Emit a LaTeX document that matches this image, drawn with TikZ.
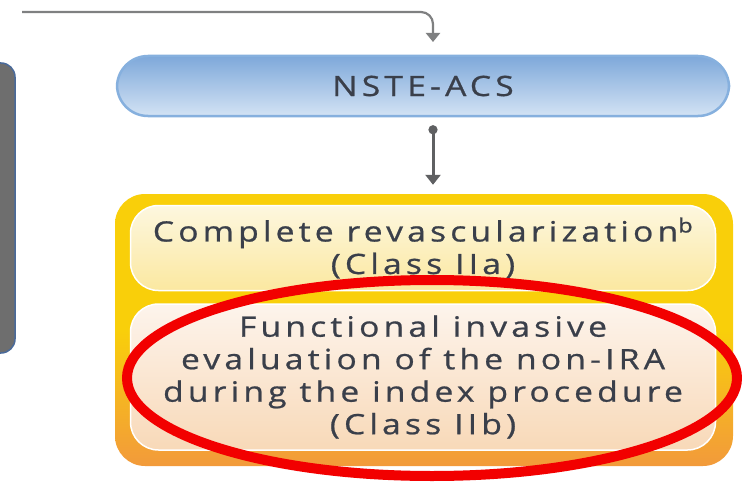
\documentclass[tikz,border=0pt]{standalone}
\usepackage{fontspec}
\setmainfont{Open Sans}[LetterSpace=15, FakeBold=0.8, FakeStretch=1.2]
\usetikzlibrary{arrows.meta,calc}
\definecolor{txt}{HTML}{3A3F4A}
\definecolor{conn}{HTML}{5F6062}
\definecolor{pilltop}{HTML}{7EA8DA}
\definecolor{pillbot}{HTML}{D3E3F4}
\definecolor{pillline}{HTML}{86B0DE}
\definecolor{contop}{HTML}{F9CF0A}
\definecolor{conbot}{HTML}{F29A3B}
\definecolor{boxatop}{HTML}{FDF7DF}
\definecolor{boxabot}{HTML}{FBE8A0}
\definecolor{boxbtop}{HTML}{FDF4EC}
\definecolor{boxbbot}{HTML}{F8D9B8}
\definecolor{grayfill}{HTML}{6E6E6E}
\definecolor{grayline}{HTML}{4A6A9A}
\definecolor{ringred}{HTML}{F20000}
\tikzset{
  pill/.style={draw=pillline, line width=2.5pt, rounded corners=31pt,
    top color=pilltop, bottom color=pillbot, minimum width=612pt, minimum height=60pt,
    inner sep=0pt, text=txt, font=\fontsize{28}{32}\selectfont},
  container/.style={rounded corners=30pt, top color=contop, bottom color=conbot,
    middle color=contop, minimum width=618pt, minimum height=272pt, inner sep=0pt},
  innerbox/.style={rounded corners=28pt, minimum width=585pt, inner sep=0pt,
    text=txt, align=center, font=\fontsize{28}{32.5}\selectfont},
  conline/.style={draw=conn, line width=2.2pt},
  ring/.style={draw=ringred, line width=10pt}
}
\begin{document}
\begin{tikzpicture}[x=1pt,y=-1pt]
\useasboundingbox (0,0) rectangle (742,487);
% left gray box
\filldraw[fill=grayfill, draw=grayline, line width=1.5pt, rounded corners=14pt]
  (-30,63) -- (15,63) -- (15,353) -- (-30,353) -- cycle;
% NSTE-ACS pill
\node[pill] (nste) at (423,86) {NSTE-ACS};
% container
\node[container] (cont) at (424,330) {};
\node[innerbox, minimum height=85pt, top color=boxatop, bottom color=boxabot,
  draw=white, line width=1.5pt] (boxa) at (423,248)
  {Complete revascularization\textsuperscript{b}\\(Class IIa)};
\node[innerbox, minimum height=146pt, top color=boxbtop, bottom color=boxbbot,
  draw=white, line width=1.5pt] (boxb) at (423,377)
  {Functional invasive\\evaluation of the non-IRA\\during the index procedure\\(Class IIb)};
% connectors
\coordinate (start) at (22,12);
\coordinate (bend) at (433,12);
\draw[conline, draw=conn!80, rounded corners=12pt, -{Triangle[width=14pt,length=9pt]}]
  (start) -- (bend) -- ($(bend)+(0,30)$);
\draw[conline, line width=3pt, {Circle[length=9pt]}-{Triangle[width=15pt,length=10pt]}, shorten <=8pt, shorten >=9pt]
  (nste.south -| 433,0) -- (cont.north -| 433,0);
% red ellipse
\draw[ring] (432,378) ellipse [x radius=305pt, y radius=98pt];
\end{tikzpicture}
\end{document}
